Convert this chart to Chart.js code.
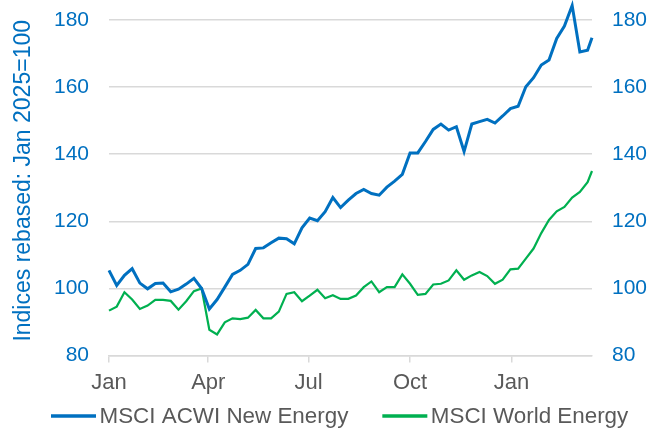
<!DOCTYPE html>
<html>
<head>
<meta charset="utf-8">
<script src="https://cdn.jsdelivr.net/npm/chart.js@4.4.1/dist/chart.umd.min.js"></script>
<style>
  html, body { margin: 0; padding: 0; background: #fff; }
  #wrap { width: 660px; height: 430px; }
</style>
</head>
<body>
<div id="wrap"><canvas id="chart"></canvas></div>
<script>
// weekly index values, Jan 2025 - Mar 2026
const newEnergy = [
  105.4, 100.9, 103.9, 105.9, 101.6, 99.9, 101.5, 101.6, 99.0, 99.8, 101.3, 103.0, 100.0,
  93.9, 96.7, 100.4, 104.2, 105.4, 107.2, 111.9, 112.1, 113.6, 115.0, 114.8, 113.3, 118.1,
  121.0, 120.2, 122.9, 127.1, 124.1, 126.3, 128.3, 129.5, 128.3, 127.8, 130.2, 132.0, 134.0,
  140.4, 140.4, 143.8, 147.4, 149.0, 147.2, 148.2, 140.8, 149.0, 149.7, 150.4, 149.3, 151.4,
  153.6, 154.3, 160.1, 162.8, 166.6, 168.1, 174.5, 178.2, 184.3, 170.5, 171.0, 174.7
];
const worldEnergy = [
  93.4, 94.6, 98.9, 96.7, 93.9, 94.9, 96.6, 96.6, 96.3, 93.7, 96.2, 99.2, 100.0,
  87.7, 86.3, 89.9, 91.1, 90.9, 91.3, 93.6, 91.1, 91.1, 93.1, 98.4, 98.9, 96.2,
  97.9, 99.6, 97.1, 98.0, 96.9, 96.9, 97.9, 100.4, 102.1, 98.9, 100.4, 100.4, 104.2,
  101.4, 98.1, 98.4, 101.2, 101.4, 102.4, 105.4, 102.6, 103.9, 104.9, 103.7, 101.4, 102.6,
  105.7, 105.9, 108.9, 111.9, 116.5, 120.4, 123.0, 124.3, 127.1, 128.8, 131.7, 135.0
];
// days since 1 Jan 2025; last observation is mid-week
const lastDay = 438;
const xDays = newEnergy.map((_, i) => i < newEnergy.length - 1 ? i * 7 : lastDay);
const tickDays = [0, 90, 181, 273, 365];
const tickLabels = ['Jan', 'Apr', 'Jul', 'Oct', 'Jan'];
const yTicks = [80, 100, 120, 140, 160, 180];

const BLUE = '#0070C0', GREEN = '#00B050', GREY = '#595959', GRID = '#D9D9D9';
const FONT = "'Liberation Sans', Arial, sans-serif";

const pts = arr => arr.map((v, i) => ({x: xDays[i], y: v}));

// gap between labels and plot done with an invisible tick mark, so it does not pad top/bottom
const yAxis = (pos, width) => ({
  type: 'linear', position: pos, min: yTicks[0], max: yTicks[yTicks.length - 1],
  afterBuildTicks: s => { s.ticks = yTicks.map(v => ({value: v})); },
  afterFit: s => { s.width = width; },
  ticks: {color: BLUE, font: {family: FONT, size: 21}, padding: 0},
  grid: {drawOnChartArea: pos === 'left', color: GRID, lineWidth: 1.5,
    drawTicks: true, tickLength: 20, tickColor: 'rgba(0,0,0,0)'},
  border: {display: false}
});

const left = yAxis('left', 109);
left.title = {
  display: true, text: 'Indices rebased: Jan 2025=100', color: BLUE, align: 'end',
  font: {family: FONT, size: 23}, padding: {top: 10, bottom: 0}
};

// legend drawn under the axis, line + text per series
const bottomLegend = {
  id: 'bottomLegend',
  afterDraw(chart) {
    const ctx = chart.ctx, y = 416, lineLen = 45, gap = 3.5, itemGap = 34;
    let x = 51;
    ctx.save();
    ctx.font = '22.4px ' + FONT;
    ctx.textBaseline = 'middle';
    chart.data.datasets.forEach(d => {
      ctx.strokeStyle = d.borderColor;
      ctx.lineWidth = 3.5;
      ctx.beginPath();
      ctx.moveTo(x, y);
      ctx.lineTo(x + lineLen, y);
      ctx.stroke();
      ctx.fillStyle = GREY;
      ctx.fillText(d.label, x + lineLen + gap, y + 1);
      x += lineLen + gap + ctx.measureText(d.label).width + itemGap;
    });
    ctx.restore();
  }
};

new Chart(document.getElementById('chart'), {
  type: 'line',
  data: {
    datasets: [
      {label: 'MSCI ACWI New Energy', data: pts(newEnergy), borderColor: BLUE, borderWidth: 3, clip: false},
      {label: 'MSCI World Energy', data: pts(worldEnergy), borderColor: GREEN, borderWidth: 2.2, clip: false}
    ]
  },
  options: {
    responsive: true, maintainAspectRatio: false, animation: false, devicePixelRatio: 1,
    layout: {padding: {left: 0, right: 0, top: 20, bottom: 27}},
    elements: {point: {radius: 0}, line: {tension: 0}},
    plugins: {tooltip: {enabled: false}, legend: {display: false}},
    scales: {
      x: {
        type: 'linear', min: 0, max: lastDay,
        afterBuildTicks: s => { s.ticks = tickDays.map(v => ({value: v})); },
        ticks: {color: GREY, font: {family: FONT, size: 22}, padding: 7, maxRotation: 0,
          callback: v => tickLabels[tickDays.indexOf(v)]},
        grid: {drawOnChartArea: false, color: GRID, lineWidth: 1.5, tickLength: 7},
        border: {color: GRID, width: 1.5}
      },
      y: left,
      y2: yAxis('right', 68)
    }
  },
  plugins: [bottomLegend]
});
</script>
</body>
</html>
